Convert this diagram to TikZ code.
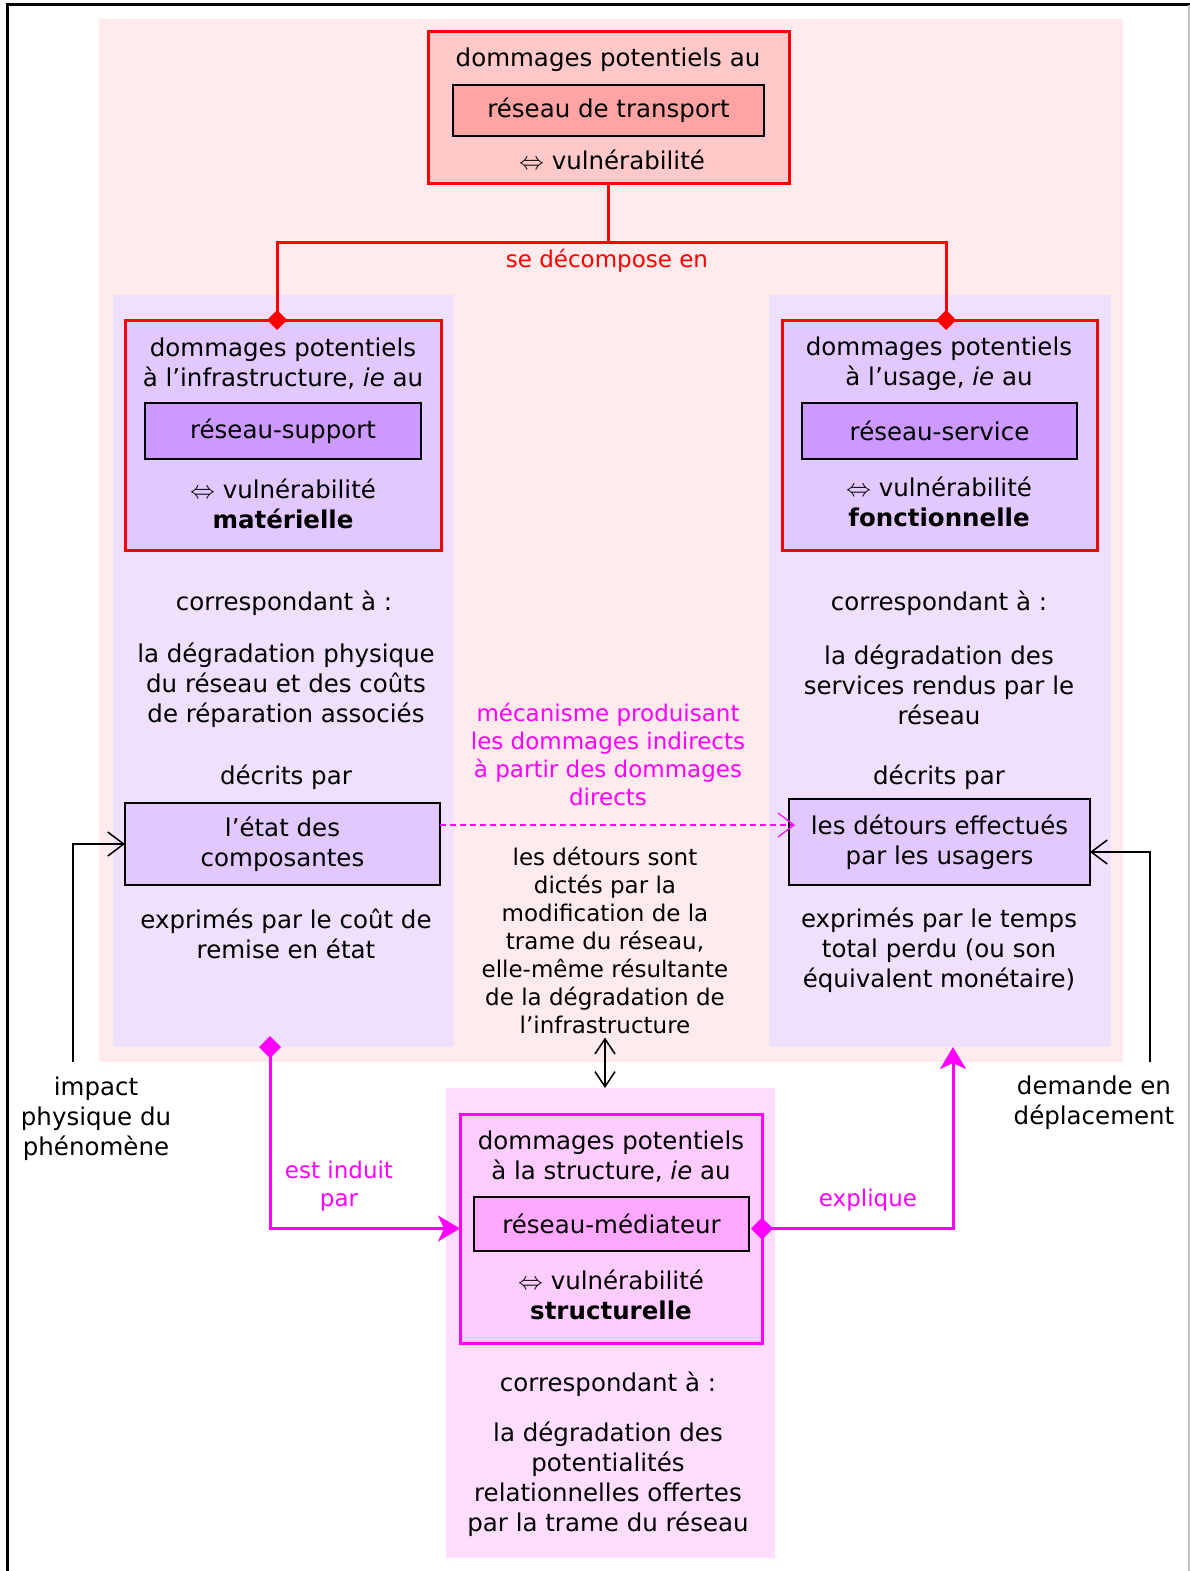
\documentclass[tikz,border=0pt]{standalone}
\usepackage{fontspec}
\setmainfont{DejaVu Sans}
\usetikzlibrary{arrows.meta}
\newcommand\mainsz{\fontsize{24.5}{30}\selectfont}
\newcommand\smallsz{\fontsize{23}{28}\selectfont}
\newcommand\equivto{$\Leftrightarrow$}
\definecolor{bgpink}{RGB}{255,235,235}
\definecolor{topfill}{RGB}{255,201,201}
\definecolor{topinner}{RGB}{255,163,163}
\definecolor{lavpanel}{RGB}{239,224,253}
\definecolor{lavbox}{RGB}{225,200,255}
\definecolor{lavinner}{RGB}{204,153,255}
\definecolor{pinkpanel}{RGB}{255,221,255}
\definecolor{pinkbox}{RGB}{255,204,255}
\definecolor{pinkinner}{RGB}{255,168,255}
\definecolor{mag}{RGB}{255,0,255}
\definecolor{pured}{RGB}{255,0,0}
\tikzset{
	area/.style={inner sep=0pt, outer sep=0pt, draw=none},
	bigbox/.style={inner sep=0pt, outer sep=0pt, line width=3pt},
	namebox/.style={draw=black, line width=1.5pt, inner sep=0pt, outer sep=0pt, font=\mainsz},
	txt/.style={align=center, inner sep=0pt, font=\mainsz},
	smalltxt/.style={align=center, inner sep=0pt, font=\smallsz},
	redline/.style={draw=pured, line width=3pt},
	magline/.style={draw=mag, line width=3pt},
	thinarrow/.style={line width=1.5pt, -{Straight Barb[length=16pt,width=24pt,line width=1.5pt]}}
}
\begin{document}
\begin{tikzpicture}[x=1pt,y=-1pt]
	\useasboundingbox (0,0) rectangle (1190,1571);
	\draw[line width=3pt] (7,1571)--(7,5)--(1190,5);
	\draw[black!25, line width=1.5pt] (1189,5)--(1189,1571);
	\node[area, fill=bgpink, minimum width=1024pt, minimum height=1043pt] (bg) at (611,540.5) {};
	\node[area, fill=lavpanel, minimum width=341pt, minimum height=752pt] (lpanel) at (283.5,671) {};
	\node[area, fill=lavpanel, minimum width=342pt, minimum height=752pt] (rpanel) at (940,671) {};
	\node[area, fill=pinkpanel, minimum width=329pt, minimum height=470pt] (bpanel) at (610.5,1323) {};
	\node[bigbox, draw=pured, fill=topfill, minimum width=361pt, minimum height=151pt] (top) at (608.5,107.5) {};
	\node[bigbox, draw=pured, fill=lavbox, minimum width=316pt, minimum height=230pt] (lbox) at (283,435) {};
	\node[bigbox, draw=pured, fill=lavbox, minimum width=315pt, minimum height=230pt] (rbox) at (939.5,435) {};
	\node[bigbox, draw=mag, fill=pinkbox, minimum width=302pt, minimum height=229pt] (mbox) at (611,1228.5) {};
	\node[namebox, fill=topinner, minimum width=311pt, minimum height=51pt] (topin) at (608.5,110.5) {réseau de transport};
	\node[namebox, fill=lavinner, minimum width=276pt, minimum height=56pt] (lin) at (283,431) {réseau-support};
	\node[namebox, fill=lavinner, minimum width=275pt, minimum height=56pt] (rin) at (939.5,431) {réseau-service};
	\node[namebox, fill=pinkinner, minimum width=275pt, minimum height=54pt] (min) at (611.5,1224) {réseau-médiateur};
	\node[namebox, fill=lavbox, align=center, minimum width=315pt, minimum height=82pt] (lstate) at (282.5,844) {l’état des\\composantes};
	\node[namebox, fill=lavbox, align=center, minimum width=301pt, minimum height=86pt] (rstate) at (939.5,842) {les détours effectués\\par les usagers};
	\node[txt] (toptxt) at (608,60) {dommages potentiels au};
	\node[txt] (topvul) at (612,160) {\equivto\ vulnérabilité};
	\node[txt] (ltxt) at (283,364) {dommages potentiels\\à l’infrastructure, \textit{ie} au};
	\node[txt] (lvul) at (283,504) {\equivto\ vulnérabilité\\\textbf{matérielle}};
	\node[txt] (rtxt) at (939,364) {dommages potentiels\\à l’usage, \textit{ie} au};
	\node[txt] (rvul) at (939,502) {\equivto\ vulnérabilité\\\textbf{fonctionnelle}};
	\node[txt] (lcorr) at (284,603) {correspondant à :};
	\node[txt] (ldeg) at (286,685) {la dégradation physique\\du réseau et des coûts\\de réparation associés};
	\node[txt] (ldec) at (286,777) {décrits par};
	\node[txt] (lexp) at (286,934) {exprimés par le coût de\\remise en état};
	\node[txt] (rcorr) at (939,603) {correspondant à :};
	\node[txt] (rdeg) at (939,685) {la dégradation des\\services rendus par le\\réseau};
	\node[txt] (rdec) at (939,777) {décrits par};
	\node[txt] (rexp) at (939,950) {exprimés par le temps\\total perdu (ou son\\équivalent monétaire)};
	\node[smalltxt, text=mag] (mech) at (608,754) {mécanisme produisant\\les dommages indirects\\à partir des dommages\\directs};
	\node[smalltxt] (detours) at (605,940) {les détours sont\\dictés par la\\modification de la\\trame du réseau,\\elle-même résultante\\de la dégradation de\\l’infrastructure};
	\node[txt] (mtxt) at (611,1157) {dommages potentiels\\à la structure, \textit{ie} au};
	\node[txt] (mvul) at (611,1295) {\equivto\ vulnérabilité\\\textbf{structurelle}};
	\node[txt] (bcorr) at (608,1384) {correspondant à :};
	\node[txt] (bdeg) at (608,1479) {la dégradation des\\potentialités\\relationnelles offertes\\par la trame du réseau};
	\node[txt] (impact) at (96,1119) {impact\\physique du\\phénomène};
	\node[txt] (demand) at (1094,1103) {demande en\\déplacement};
	\node[smalltxt, text=pured] (decomp) at (607,261) {se décompose en};
	\node[smalltxt, text=mag] (induit) at (339,1186) {est induit\\par};
	\node[smalltxt, text=mag] (explique) at (868,1200) {explique};
	\coordinate (split) at (top.south |- 0,242);
	\draw[redline] (top.south)--(split);
	\draw[redline, -{Diamond[length=20pt,width=20pt]}, shorten >=-10pt] (split) -| ([xshift=-6pt]lbox.north);
	\draw[redline, -{Diamond[length=20pt,width=20pt]}, shorten >=-10pt] (split) -| ([xshift=6.5pt]rbox.north);
	\coordinate (mechstart) at ([yshift=19pt]lstate.east);
	\draw[mag, line width=1.2pt, dash pattern=on 6pt off 4pt, -{Straight Barb[length=16pt,width=24pt,line width=1.2pt]}, shorten >=-6pt] (mechstart)--(mechstart -| rstate.west);
	\draw[line width=1.5pt, {Straight Barb[length=15pt,width=20pt,line width=1.5pt]}-{Straight Barb[length=15pt,width=20pt,line width=1.5pt]}] ([yshift=-4pt]detours.south)--(detours.south |- bpanel.north);
	\draw[magline, {Diamond[length=22pt,width=22pt]}-{Stealth[length=22pt,width=26pt,inset=6pt]}, shorten <=-11pt] ([xshift=-13.5pt]lpanel.south) |- (mbox.west);
	\draw[magline, {Diamond[length=22pt,width=22pt]}-{Stealth[length=22pt,width=26pt,inset=6pt]}, shorten <=-11pt] (mbox.east) -| ([xshift=13pt]rpanel.south);
	\coordinate (impstart) at (73,1062);
	\coordinate (demstart) at (1150,1062);
	\draw[thinarrow] (impstart) |- (lstate.west);
	\draw[thinarrow] (demstart) |- ([yshift=-10pt]rstate.east);
\end{tikzpicture}
\end{document}
